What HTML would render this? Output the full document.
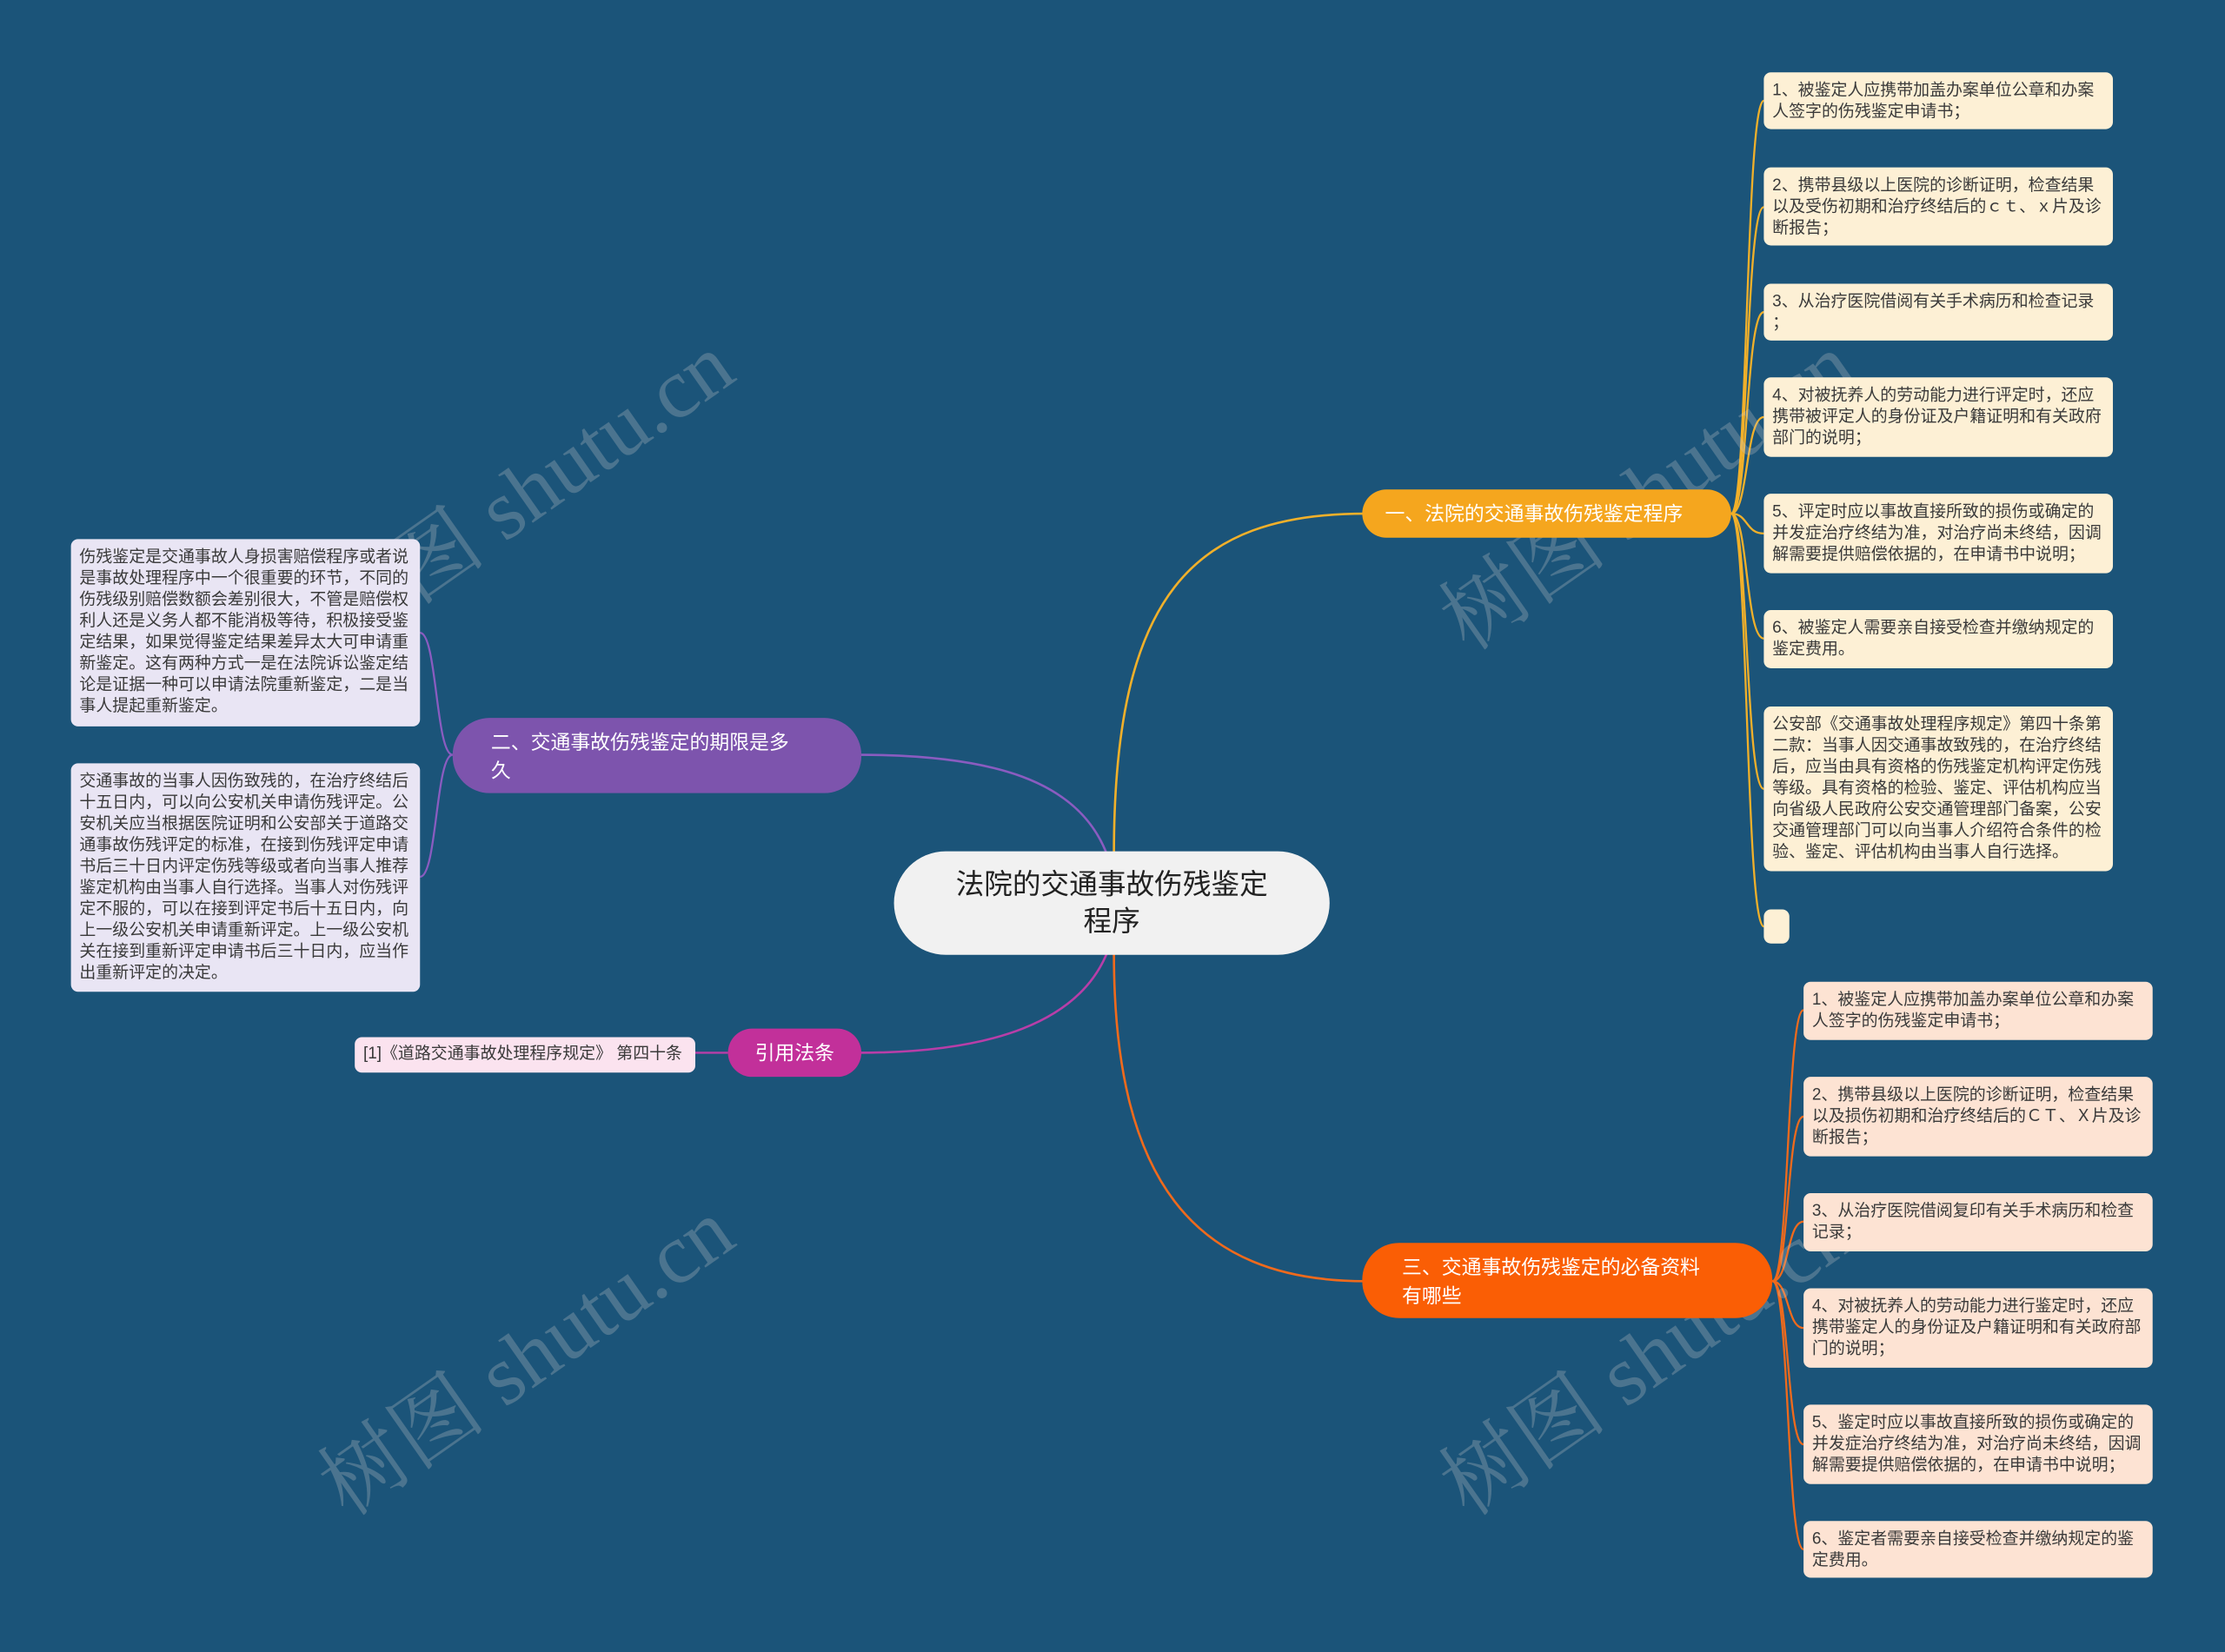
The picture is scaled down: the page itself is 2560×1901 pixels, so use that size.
<!DOCTYPE html>
<html><head><meta charset="utf-8">
<style>
html,body{margin:0;padding:0;background:#1b5479;overflow:hidden;}
#wrap{width:2560px;height:1901px;position:relative;overflow:hidden;background:#1b5479;}
#s{position:absolute;left:0;top:0;width:1568px;height:1164px;transform:scale(1.632653);transform-origin:0 0;font-family:"Liberation Sans","Noto Sans CJK SC",sans-serif;}
.n{position:absolute;box-sizing:border-box;}
.leaf{font-size:11.6px;line-height:15px;color:#3a3a3a;padding:5px 6px;border-radius:5px;}
.y{background:#fdf0d5;}
.o{background:#fde3d3;}
.p{background:#e9e5f4;}
.m{background:#fbe3ef;}
.br{color:#fff;font-size:14px;line-height:20px;border-radius:26px;padding:0 16px;display:flex;align-items:center;}
.wm{position:absolute;color:rgba(200,200,200,0.28);font-family:"Liberation Serif","Noto Serif CJK SC",serif;font-size:60px;transform:rotate(-35deg);white-space:nowrap;}
</style></head><body><div id="wrap"><div id="s">
<svg width="1568" height="1164" style="position:absolute;left:0;top:0" fill="none">
<g stroke-width="1.6">
<path d="M785 602 C785 420 840 362 962 362" stroke="#f1b02a"/>
<path d="M785 672 C785 830 840 903 962 903" stroke="#f06a1c"/>
<path d="M780 602 C760 550 700 532 605 532" stroke="#8a5cc0"/>
<path d="M780 672 C760 720 700 742 605 742" stroke="#b83ea8"/>
</g>
<g stroke="#f1b02a" stroke-width="1.4">
<path d="M1220 362 C1232 362 1230 71 1243 71"/>
<path d="M1220 362 C1232 362 1230 146 1243 146"/>
<path d="M1220 362 C1232 362 1230 220 1243 220"/>
<path d="M1220 362 C1232 362 1230 294 1243 294"/>
<path d="M1220 362 C1232 362 1230 376 1243 376"/>
<path d="M1220 362 C1232 362 1230 450 1243 450"/>
<path d="M1220 362 C1232 362 1230 556 1243 556"/>
<path d="M1220 362 C1232 362 1230 653 1243 653"/>
</g>
<g stroke="#f06a1c" stroke-width="1.4">
<path d="M1249 903 C1261 903 1259 712 1271 712"/>
<path d="M1249 903 C1261 903 1259 787 1271 787"/>
<path d="M1249 903 C1261 903 1259 861 1271 861"/>
<path d="M1249 903 C1261 903 1259 936 1271 936"/>
<path d="M1249 903 C1261 903 1259 1018 1271 1018"/>
<path d="M1249 903 C1261 903 1259 1092 1271 1092"/>
</g>
<g stroke="#8a5cc0" stroke-width="1.4">
<path d="M319 532 C307 532 308 446 296 446"/>
<path d="M319 532 C307 532 308 618 296 618"/>
</g>
<path d="M513 742 L490 742" stroke="#b83ea8" stroke-width="1.4"/>
</svg>

<div class="wm" style="left:200px;top:300px">树图 shutu.cn</div>
<div class="wm" style="left:200px;top:910px">树图 shutu.cn</div>
<div class="wm" style="left:990px;top:300px">树图 shutu.cn</div>
<div class="wm" style="left:990px;top:910px">树图 shutu.cn</div>

<div class="n" style="left:630px;top:600px;width:307px;height:73px;background:#f1f1f1;border-radius:37px;display:flex;align-items:center;justify-content:center;text-align:center;font-size:20px;line-height:26px;color:#222;padding:0 40px;">法院的交通事故伤残鉴定程序</div>

<div class="n br" style="left:960px;top:345px;width:260px;height:34px;background:#f5a61e;">一、法院的交通事故伤残鉴定程序</div>
<div class="n br" style="left:319px;top:506px;width:288px;height:53px;background:#7d54ad;padding-left:27px;padding-right:44px;">二、交通事故伤残鉴定的期限是多久</div>
<div class="n br" style="left:513px;top:725px;width:94px;height:34px;background:#c2309a;justify-content:center;padding:0;">引用法条</div>
<div class="n br" style="left:960px;top:876px;width:289px;height:53px;background:#fa5e05;padding-left:28px;padding-right:44px;">三、交通事故伤残鉴定的必备资料有哪些</div>

<div class="n leaf y" style="left:1243px;top:51px;width:246px;height:40px;">1、被鉴定人应携带加盖办案单位公章和办案人签字的伤残鉴定申请书；</div>
<div class="n leaf y" style="left:1243px;top:118px;width:246px;height:55px;">2、携带县级以上医院的诊断证明，检查结果以及受伤初期和治疗终结后的ｃｔ、ｘ片及诊断报告；</div>
<div class="n leaf y" style="left:1243px;top:200px;width:246px;height:40px;">3、从治疗医院借阅有关手术病历和检查记录 ；</div>
<div class="n leaf y" style="left:1243px;top:266px;width:246px;height:56px;">4、对被抚养人的劳动能力进行评定时，还应携带被评定人的身份证及户籍证明和有关政府部门的说明；</div>
<div class="n leaf y" style="left:1243px;top:348px;width:246px;height:56px;">5、评定时应以事故直接所致的损伤或确定的并发症治疗终结为准，对治疗尚未终结，因调解需要提供赔偿依据的，在申请书中说明；</div>
<div class="n leaf y" style="left:1243px;top:430px;width:246px;height:41px;">6、被鉴定人需要亲自接受检查并缴纳规定的鉴定费用。</div>
<div class="n leaf y" style="left:1243px;top:498px;width:246px;height:116px;">公安部《交通事故处理程序规定》第四十条第二款：当事人因交通事故致残的，在治疗终结后，应当由具有资格的伤残鉴定机构评定伤残等级。具有资格的检验、鉴定、评估机构应当向省级人民政府公安交通管理部门备案，公安交通管理部门可以向当事人介绍符合条件的检验、鉴定、评估机构由当事人自行选择。</div>
<div class="n leaf y" style="left:1243px;top:641px;width:18px;height:24px;padding:0"></div>

<div class="n leaf o" style="left:1271px;top:692px;width:246px;height:41px;">1、被鉴定人应携带加盖办案单位公章和办案人签字的伤残鉴定申请书；</div>
<div class="n leaf o" style="left:1271px;top:759px;width:246px;height:56px;">2、携带县级以上医院的诊断证明，检查结果以及损伤初期和治疗终结后的ＣＴ、Ｘ片及诊断报告；</div>
<div class="n leaf o" style="left:1271px;top:841px;width:246px;height:41px;">3、从治疗医院借阅复印有关手术病历和检查记录；</div>
<div class="n leaf o" style="left:1271px;top:908px;width:246px;height:56px;">4、对被抚养人的劳动能力进行鉴定时，还应携带鉴定人的身份证及户籍证明和有关政府部门的说明；</div>
<div class="n leaf o" style="left:1271px;top:990px;width:246px;height:56px;">5、鉴定时应以事故直接所致的损伤或确定的并发症治疗终结为准，对治疗尚未终结，因调解需要提供赔偿依据的，在申请书中说明；</div>
<div class="n leaf o" style="left:1271px;top:1072px;width:246px;height:40px;">6、鉴定者需要亲自接受检查并缴纳规定的鉴定费用。</div>

<div class="n leaf p" style="left:50px;top:380px;width:246px;height:132px;">伤残鉴定是交通事故人身损害赔偿程序或者说是事故处理程序中一个很重要的环节，不同的伤残级别赔偿数额会差别很大，不管是赔偿权利人还是义务人都不能消极等待，积极接受鉴定结果，如果觉得鉴定结果差异太大可申请重新鉴定。这有两种方式一是在法院诉讼鉴定结论是证据一种可以申请法院重新鉴定，二是当事人提起重新鉴定。</div>
<div class="n leaf p" style="left:50px;top:538px;width:246px;height:161px;">交通事故的当事人因伤致残的，在治疗终结后十五日内，可以向公安机关申请伤残评定。公安机关应当根据医院证明和公安部关于道路交通事故伤残评定的标准，在接到伤残评定申请书后三十日内评定伤残等级或者向当事人推荐鉴定机构由当事人自行选择。当事人对伤残评定不服的，可以在接到评定书后十五日内，向上一级公安机关申请重新评定。上一级公安机关在接到重新评定申请书后三十日内，应当作出重新评定的决定。</div>

<div class="n leaf m" style="left:250px;top:731px;width:240px;height:25px;padding:4px 6px;">[1]《道路交通事故处理程序规定》 第四十条</div>
</div></div></body></html>
